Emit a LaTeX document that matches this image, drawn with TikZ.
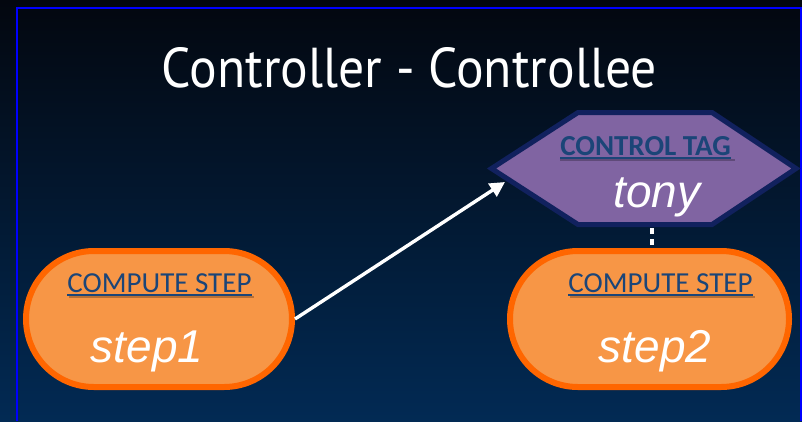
\documentclass[tikz,border=0pt]{standalone}
\usepackage{fontspec}
\setmainfont{Liberation Sans}
\newfontfamily\calib{Carlito}
\newfontfamily\titlef{PT Sans}
\usetikzlibrary{shapes.misc,arrows.meta}
\definecolor{bgtop}{HTML}{03070F}
\definecolor{bgbottom}{HTML}{022A54}
\definecolor{frameblue}{HTML}{0000FF}
\definecolor{stepfill}{HTML}{F79646}
\definecolor{stepedge}{HTML}{FF6600}
\definecolor{tagfill}{HTML}{8064A2}
\definecolor{tagedge}{HTML}{11215E}
\definecolor{kindblue}{HTML}{1B4578}
\tikzset{
  stepbox/.style={rounded rectangle, draw=stepedge, fill=stepfill, line width=6pt,
    minimum height=136pt, inner sep=0pt},
  tagbox/.style={draw=tagedge, fill=tagfill, line width=5pt, line join=miter},
  kindtext/.style={anchor=base, inner sep=0pt, text=kindblue, font=\calib\fontsize{29}{34}\selectfont},
  ulinestyle/.style={draw=kindblue, line width=1.8pt},
  ushadow/.style={draw=black, opacity=0.25, line width=2.2pt},
  itemname/.style={anchor=base, inner sep=0pt, text=white, font=\fontsize{46}{52}\selectfont\itshape},
  link/.style={draw=white, line width=3.4pt, -{Triangle[length=15pt,width=15pt]}},
  dashlink/.style={draw=white, line width=3.5pt, dash pattern=on 6pt off 5pt},
  frameline/.style={draw=frameblue, line width=2pt},
}
\begin{document}
\begin{tikzpicture}[x=1pt,y=-1pt]
% backdrop
\shade[top color=bgtop, bottom color=bgbottom] (0,0) rectangle (802,421);
\useasboundingbox (0,0) rectangle (802,421);
\draw[frameline] (17,421) -- (17,8) -- (801,8) -- (801,421);

% title
\node[anchor=base, inner sep=0pt, text=white] (title) at (409.5,87)
  {\resizebox{495pt}{40pt}{\titlef Controller - Controllee}};

% control tag hexagon
\coordinate (hL)  at (491.5,168.5);
\coordinate (hTL) at (578,112.5);
\coordinate (hTR) at (712,112.5);
\coordinate (hR)  at (796,168.5);
\coordinate (hBR) at (712,224.5);
\coordinate (hBL) at (578,224.5);
\filldraw[tagbox] (hL) -- (hTL) -- (hTR) -- (hR) -- (hBR) -- (hBL) -- cycle;
\coordinate (tagin) at (505,182);
\coordinate (tagbot) at (652,228);

\draw[ushadow] (560,160) -- (735,160);
\node[kindtext, font=\calib\bfseries\fontsize{29}{34}\selectfont] (tagkind) at (645.5,155) {CONTROL TAG};
\draw[ulinestyle] ([shift={(0,3)}]tagkind.base west) -- ([shift={(0,3)}]tagkind.base east);
\node[itemname] (tony) at (657,207) {tony};

% compute steps
\node[stepbox, minimum width=266pt] (s1) at (159,319) {};
\node[stepbox, minimum width=279pt] (s2) at (649.5,319) {};

\draw[ushadow] (69,297) -- (254,297);
\node[kindtext] (k1) at (159.5,292) {COMPUTE STEP};
\draw[ulinestyle] ([shift={(0,3)}]k1.base west) -- ([shift={(0,3)}]k1.base east);
\node[itemname] (n1) at (147,362) {step1};

\draw[ushadow] (570,297) -- (755,297);
\node[kindtext] (k2) at (660.5,292) {COMPUTE STEP};
\draw[ulinestyle] ([shift={(0,3)}]k2.base west) -- ([shift={(0,3)}]k2.base east);
\node[itemname] (n2) at (655,362) {step2};

% connectors
\draw[link] (s1.east) -- (tagin);
\draw[dashlink] (tagbot) -- (tagbot |- s2.north);
\end{tikzpicture}
\end{document}
